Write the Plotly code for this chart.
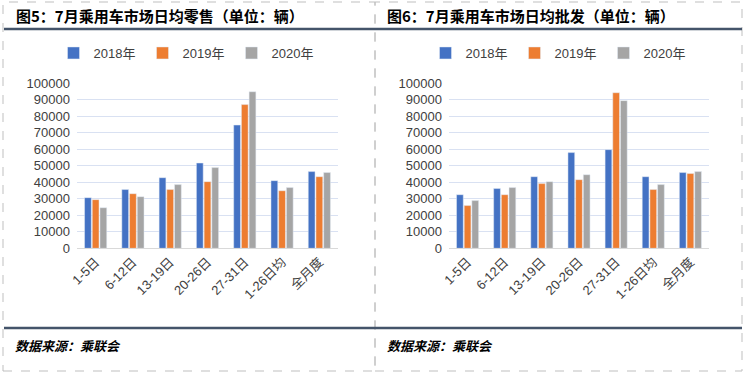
import plotly.graph_objects as go

categories = ["1-5日", "6-12日", "13-19日", "20-26日", "27-31日", "1-26日均", "全月度"]
years = ["2018年", "2019年", "2020年"]
colors = ["#4472C4", "#ED7D31", "#A5A5A5"]

retail_2018 = [30700, 35600, 42800, 51700, 74700, 41000, 46500]
retail_2019 = [29500, 33100, 35600, 40400, 87100, 34900, 43400]
retail_2020 = [24600, 31300, 38600, 48900, 94900, 36800, 45900]

wholesale_2018 = [32500, 36200, 43400, 58000, 59800, 43400, 45900]
wholesale_2019 = [25900, 32500, 39200, 41600, 94300, 35600, 45300]
wholesale_2020 = [28900, 36800, 40400, 44600, 89500, 38600, 46500]

title_left = "图5：7月乘用车市场日均零售（单位：辆）"
title_right = "图6：7月乘用车市场日均批发（单位：辆）"
source_text = "数据来源：乘联会"
y_ticks = [0, 10000, 20000, 30000, 40000, 50000, 60000, 70000, 80000, 90000, 100000]

W, H = 745, 374
FONT = "Arial, Liberation Sans, Noto Sans CJK SC, sans-serif"
CJK = "Noto Sans CJK SC, sans-serif"

fig = go.Figure()
for i, (name, vals) in enumerate(zip(years, [retail_2018, retail_2019, retail_2020])):
    fig.add_trace(go.Bar(x=categories, y=vals, name=name, marker_color=colors[i],
                         xaxis="x", yaxis="y", legend="legend"))
for i, (name, vals) in enumerate(zip(years, [wholesale_2018, wholesale_2019, wholesale_2020])):
    fig.add_trace(go.Bar(x=categories, y=vals, name=name, marker_color=colors[i],
                         xaxis="x2", yaxis="y2", legend="legend2"))

def px(x):
    return x / W

def py(y):
    return 1 - y / H

y0, y1 = py(248.3), py(83.3)
axis_common = dict(range=[0, 100000], tickvals=y_ticks, tickformat="d", showgrid=True,
                   gridcolor="#D9E1F2", gridwidth=1, zeroline=False, showline=False, ticks="",
                   tickfont=dict(family=FONT, size=13, color="#404040"), ticklabelstandoff=6,
                   automargin=False)
xaxis_common = dict(showline=True, linecolor="#D9D9D9", linewidth=1, ticks="", tickangle=-45,
                    tickfont=dict(family=FONT, size=13, color="#404040"), showgrid=False,
                    automargin=False)

legend_common = dict(orientation="h", xanchor="center", y=py(53), yanchor="middle",
                     font=dict(family=FONT, size=13, color="#404040"), itemwidth=30,
                     entrywidth=44, entrywidthmode="pixels",
                     traceorder="normal", bgcolor="rgba(0,0,0,0)")

fig.update_layout(
    width=W, height=H,
    margin=dict(l=0, r=0, t=0, b=0, autoexpand=False),
    paper_bgcolor="white", plot_bgcolor="white",
    barmode="group", bargap=0.38, bargroupgap=0.12,
    xaxis=dict(domain=[px(77), px(338)], anchor="y", **xaxis_common),
    yaxis=dict(domain=[y0, y1], anchor="x", **axis_common),
    xaxis2=dict(domain=[px(449), px(709)], anchor="y2", **xaxis_common),
    yaxis2=dict(domain=[y0, y1], anchor="x2", **axis_common),
    legend=dict(x=px(187), **legend_common),
    legend2=dict(x=px(559), **legend_common),
    showlegend=True,
)

shapes = []
for (xa, xb) in [(3, 375), (375, 742)]:
    shapes.append(dict(type="rect", xref="paper", yref="paper", x0=px(xa), x1=px(xb),
                       y0=py(371), y1=py(2), line=dict(color="#BFBFBF", width=1, dash="dash")))
for yy in [29, 328]:
    shapes.append(dict(type="line", xref="paper", yref="paper", x0=px(4), x1=px(742),
                       y0=py(yy), y1=py(yy), line=dict(color="#44546A", width=2.5)))
fig.update_layout(shapes=shapes)

annotations = []
for xx, t in [(14, title_left), (385, title_right)]:
    annotations.append(dict(text="<b>" + t + "</b>", x=px(xx), y=py(15), xref="paper", yref="paper",
                            xanchor="left", yanchor="middle", showarrow=False,
                            font=dict(family=CJK, size=15, color="black")))
for xx in [13, 385]:
    annotations.append(dict(text="<b><i>" + source_text + "</i></b>", x=px(xx), y=py(345),
                            xref="paper", yref="paper", xanchor="left", yanchor="middle",
                            showarrow=False, font=dict(family=CJK, size=13, color="black")))
fig.update_layout(annotations=annotations)

fig.write_html("out.html", config={"displayModeBar": False},
               post_script="document.body.style.margin='0';document.body.style.overflow='hidden';")
